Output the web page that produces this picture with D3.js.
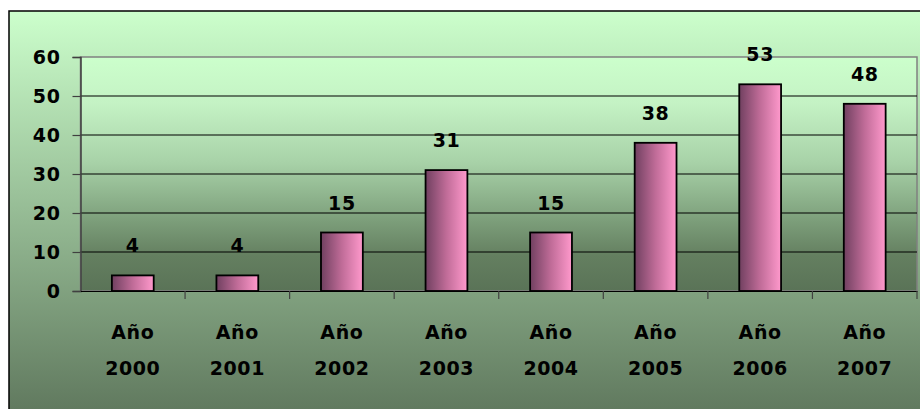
<!DOCTYPE html>
<html><head><meta charset="utf-8">
<script src="https://cdn.jsdelivr.net/npm/d3@7"></script>
<style>html,body{margin:0;padding:0;background:#fff;overflow:hidden}</style>
</head><body>
<script>
const categories = ["Año 2000","Año 2001","Año 2002","Año 2003","Año 2004","Año 2005","Año 2006","Año 2007"];
const values = [4, 4, 15, 31, 15, 38, 53, 48];
const yTicks = [0, 10, 20, 30, 40, 50, 60];

const W = 920, H = 409;
const svg = d3.select("body").append("svg").attr("width", W).attr("height", H);
const defs = svg.append("defs");

const outerG = defs.append("linearGradient").attr("id","outerG").attr("x1",0).attr("y1",0).attr("x2",0).attr("y2",1);
[[0,"#ccffcc"],[1,"#5e765c"]].forEach(s=>outerG.append("stop").attr("offset",s[0]).attr("stop-color",s[1]));

const plotG = defs.append("linearGradient").attr("id","plotG").attr("x1",0).attr("y1",0).attr("x2",0).attr("y2",1);
[[0,"#ccffcc"],[0.2,"#c4f2c4"],[0.45,"#a8d2a8"],[0.7,"#7c9e7a"],[0.85,"#647f60"],[1,"#5a7357"]].forEach(s=>plotG.append("stop").attr("offset",s[0]).attr("stop-color",s[1]));

const barG = defs.append("linearGradient").attr("id","barG").attr("x1",0).attr("y1",0).attr("x2",1).attr("y2",0);
[[0,"#704060"],[0.5,"#c06c98"],[1,"#ff99cc"]].forEach(s=>barG.append("stop").attr("offset",s[0]).attr("stop-color",s[1]));

// outer chart area
svg.append("rect").attr("x",9).attr("y",11).attr("width",W).attr("height",H)
  .attr("fill","url(#outerG)").attr("stroke","#000").attr("stroke-width",1.5);

const m = {left: 80.5, top: 57, right: 917, bottom: 291};
const x = d3.scaleBand().domain(categories).range([m.left, m.right]).paddingInner(0.6).paddingOuter(0.3);
const xb = d3.scaleBand().domain(categories).range([m.left, m.right]);
const y = d3.scaleLinear().domain([0, 60]).range([m.bottom, m.top]);

// plot area
svg.append("rect").attr("x",m.left).attr("y",m.top).attr("width",m.right-m.left).attr("height",m.bottom-m.top)
  .attr("fill","url(#plotG)").attr("stroke","#808080").attr("stroke-width",1.5);

// gridlines
svg.append("g").selectAll("line").data(yTicks.filter(t=>t>0 && t<60)).join("line")
  .attr("x1",m.left).attr("x2",m.right).attr("y1",d=>y(d)).attr("y2",d=>y(d))
  .attr("stroke","#000").attr("stroke-width",1.2);

const font = "'DejaVu Sans', Verdana, sans-serif";
const fs = 19;
const ls = "0.6px";

// y axis
const yAxis = svg.append("g").attr("transform",`translate(${m.left},0)`)
  .call(d3.axisLeft(y).tickValues(yTicks).tickSize(8).tickPadding(12));
yAxis.select(".domain").attr("stroke","#404040").attr("stroke-width",1.5);
yAxis.selectAll(".tick line").attr("stroke","#404040").attr("stroke-width",1.2);
yAxis.selectAll("text").attr("font-family",font).attr("font-weight","bold").attr("font-size",fs)
  .attr("letter-spacing",ls).attr("fill","#000");

// x axis
const xAxis = svg.append("g").attr("transform",`translate(0,${m.bottom})`)
  .call(d3.axisBottom(xb).tickSize(0).tickFormat(""));
xAxis.select(".domain").attr("stroke","#000").attr("stroke-width",1.2);
svg.append("g").selectAll("line").data(categories.slice(1).concat(["__end"])).join("line")
  .attr("x1",(d,i)=> i < categories.length-1 ? xb(d) : m.right)
  .attr("x2",(d,i)=> i < categories.length-1 ? xb(d) : m.right)
  .attr("y1",m.bottom).attr("y2",m.bottom+8).attr("stroke","#404040").attr("stroke-width",1.2);

// x labels
const lab = svg.append("g").selectAll("text").data(categories).join("text")
  .attr("x",d=>xb(d)+xb.bandwidth()/2).attr("text-anchor","middle")
  .attr("font-family",font).attr("font-weight","bold").attr("font-size",fs)
  .attr("letter-spacing",ls).attr("fill","#000");
lab.append("tspan").attr("x",d=>xb(d)+xb.bandwidth()/2).attr("y",339).text(d=>d.split(" ")[0]);
lab.append("tspan").attr("x",d=>xb(d)+xb.bandwidth()/2).attr("y",375).text(d=>d.split(" ")[1]);

// bars
svg.append("g").selectAll("rect").data(values).join("rect")
  .attr("x",(d,i)=>x(categories[i])).attr("width",x.bandwidth())
  .attr("y",d=>y(d)).attr("height",d=>y(0)-y(d))
  .attr("fill","url(#barG)").attr("stroke","#000").attr("stroke-width",1.8);

// value labels
svg.append("g").selectAll("text").data(values).join("text")
  .attr("x",(d,i)=>x(categories[i])+x.bandwidth()/2).attr("y",d=>y(d)-23)
  .attr("text-anchor","middle").attr("font-family",font).attr("font-weight","bold")
  .attr("font-size",fs).attr("letter-spacing",ls).attr("fill","#000").text(d=>d);
</script>
</body></html>
